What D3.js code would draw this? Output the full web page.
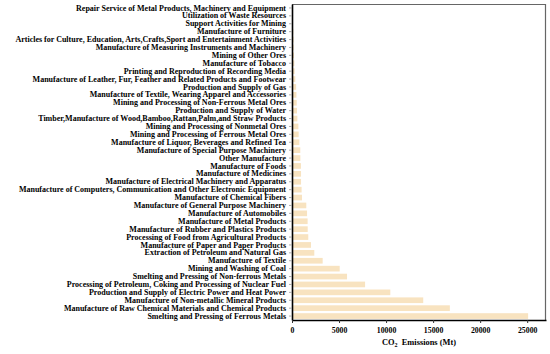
<!DOCTYPE html>
<html>
<head>
<meta charset="utf-8">
<script src="https://cdn.jsdelivr.net/npm/d3@7"></script>
<style>
  body { margin: 0; background: #fff; }
  svg text { font-family: "Liberation Serif", "Times New Roman", serif; font-weight: bold; fill: #000; }
</style>
</head>
<body>
<div id="chart"></div>
<script>
// sectors listed top to bottom
const sectors = [
    "Repair Service of Metal Products, Machinery and Equipment",
    "Utilization of Waste Resources",
    "Support Activities for Mining",
    "Manufacture of Furniture",
    "Articles for Culture, Education, Arts,Crafts,Sport and Entertainment Activities",
    "Manufacture of Measuring Instruments and Machinery",
    "Mining of Other Ores",
    "Manufacture of Tobacco",
    "Printing and Reproduction of Recording Media",
    "Manufacture of Leather, Fur, Feather and Related Products and Footwear",
    "Production and Supply of Gas",
    "Manufacture of Textile, Wearing Apparel and Accessories",
    "Mining and Processing of Non-Ferrous Metal Ores",
    "Production and Supply of Water",
    "Timber,Manufacture of Wood,Bamboo,Rattan,Palm,and Straw Products",
    "Mining and Processing of Nonmetal Ores",
    "Mining and Processing of Ferrous Metal Ores",
    "Manufacture of Liquor, Beverages and Refined Tea",
    "Manufacture of Special Purpose Machinery",
    "Other Manufacture",
    "Manufacture of Foods",
    "Manufacture of Medicines",
    "Manufacture of Electrical Machinery and Apparatus",
    "Manufacture of Computers, Communication and Other Electronic Equipment",
    "Manufacture of Chemical Fibers",
    "Manufacture of General Purpose Machinery",
    "Manufacture of Automobiles",
    "Manufacture of Metal Products",
    "Manufacture of Rubber and Plastics Products",
    "Processing of Food from Agricultural Products",
    "Manufacture of Paper and Paper Products",
    "Extraction of Petroleum and Natural Gas",
    "Manufacture of Textile",
    "Mining and Washing of Coal",
    "Smelting and Pressing of Non-ferrous Metals",
    "Processing of Petroleum, Coking and Processing of Nuclear Fuel",
    "Production and Supply of Electric Power and Heat Power",
    "Manufacture of Non-metallic Mineral Products",
    "Manufacture of Raw Chemical Materials and Chemical Products",
    "Smelting and Pressing of Ferrous Metals"
];

const emissions = [
    30, 60, 100, 140, 170, 180, 210, 250, 280, 350,
    440, 470, 500, 530, 570, 680, 710, 780, 880, 890,
    950, 960, 960, 1020, 1060, 1520, 1600, 1660, 1670, 1730,
    2020, 2370, 3260, 5070, 5850, 7770, 10450, 13950, 16780, 25100
];

const xTicks = [0, 5000, 10000, 15000, 20000, 25000];

const data = sectors.map((s, i) => ({ sector: s, value: emissions[i] }));

const W = 550, H = 354;
const margin = { top: 4, right: 4, bottom: 34, left: 292 };
const width = W - margin.left - margin.right;
const height = H - margin.top - margin.bottom;

const svg = d3.select("#chart")
    .append("svg")
    .attr("width", W)
    .attr("height", H)
    .append("g")
    .attr("transform", `translate(${margin.left},${margin.top})`);

const x = d3.scaleLinear()
    .domain([0, 27000])
    .range([0, width]);

const y = d3.scaleBand()
    .domain(sectors)
    .range([0, height])
    .paddingInner(0.28)
    .paddingOuter(0.14);

// frame on top and right
svg.append("path")
    .attr("d", `M0,0.5H${width - 0.5}V${height}`)
    .attr("fill", "none")
    .attr("stroke", "#666")
    .attr("stroke-width", 1.2);

svg.selectAll(".bar")
    .data(data)
    .enter()
    .append("rect")
    .attr("class", "bar")
    .attr("x", 1)
    .attr("y", d => y(d.sector))
    .attr("width", d => Math.max(0, x(d.value) - 1))
    .attr("height", y.bandwidth())
    .attr("fill", "#F8E3C0");

const yAxis = svg.append("g")
    .call(d3.axisLeft(y).tickSize(3).tickPadding(3).tickSizeOuter(0));
yAxis.select(".domain").attr("stroke", "#000").attr("stroke-width", 1.6);
yAxis.selectAll(".tick line").attr("stroke", "#999").attr("stroke-width", 0.8);
yAxis.selectAll("text").style("font-size", "8px");

const xAxis = svg.append("g")
    .attr("transform", `translate(0,${height})`)
    .call(d3.axisBottom(x).tickValues(xTicks).tickFormat(d3.format("d"))
        .tickSize(3).tickPadding(4).tickSizeOuter(0));
xAxis.select(".domain").attr("stroke", "#000").attr("stroke-width", 1.6);
xAxis.selectAll(".tick line").attr("stroke", "#333");
xAxis.selectAll("text").style("font-size", "7.8px");

const title = svg.append("text")
    .attr("x", width / 2)
    .attr("y", height + 25)
    .attr("text-anchor", "middle")
    .style("font-size", "8.4px");
title.append("tspan").text("CO");
title.append("tspan").attr("dy", 2).style("font-size", "6px").text("2");
title.append("tspan").attr("dy", -2).text("\u00a0 Emissions (Mt)");
</script>
</body>
</html>
